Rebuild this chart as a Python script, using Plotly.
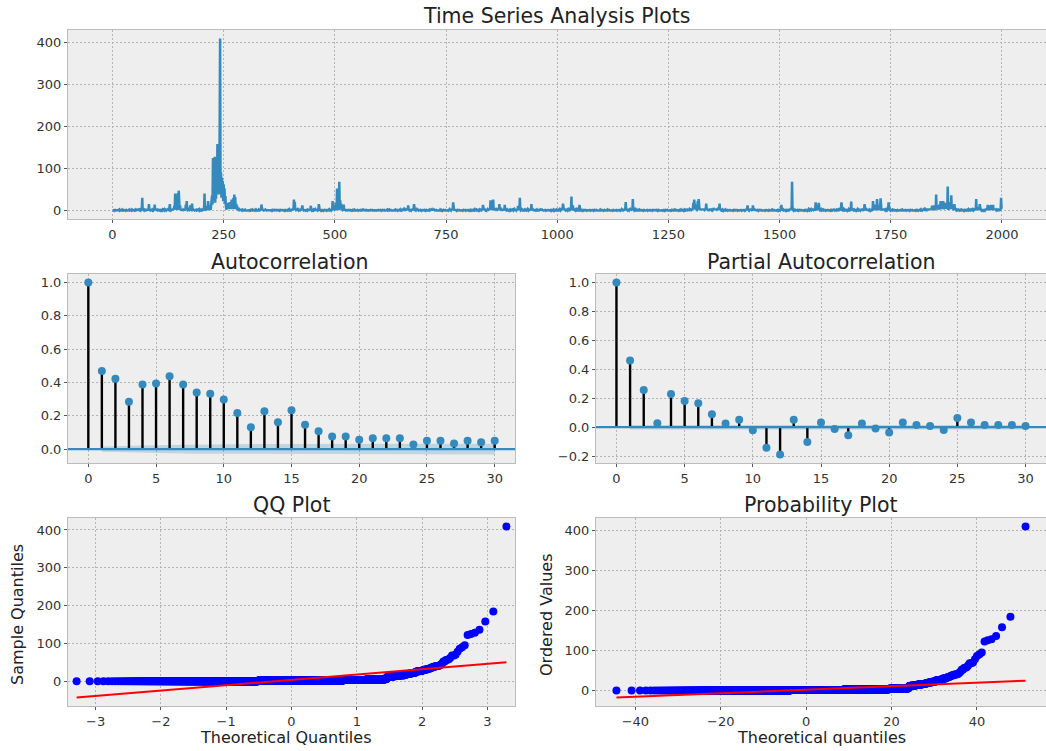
import numpy as np
import plotly.graph_objects as go
from statistics import NormalDist

W, H = 1046, 751

# Observations, one digit per time step (rows of 100); larger values are set below.
baseline_rows = [
    "0010201001 0100120100 1020010102 0101001020 1010210101 0120012111 2102132101 1021101312 1023101012 0102021321",
    "1021110102 0120121031 2012132143 1024031324 3243122434 2132121302 1122314251 2031231203 1120201132 0102103110",
    "1201132402 1032413152 3242524263 3524363524 4253524143 3524132524 3423152423 2413241324 2132312121 1021201120",
    "0101001020 1010201010 0120101002 1013241010 0101200110 1001010201 0203101010 1010020101 0110102010 2011010301",
    "1020141342 3241213102 1201314231 0110201102 1013041201 0120103101 1021341102 0110201010 1020101301 1031231413",
    "2342413241 3413241312 3120201101 0101010020 1010201001 0102010100 1024101010 0101002010 1010101002 0100201010",
    "1010020101 0101001020 1020101010 0100102010 1020101301 1021301312 2031341301 1031241302 1102031101 0101020110",
    "1010201010 0102010130 1402101010 0101010200 1020101010 0101020131 2031341201 0110201010 1001010201 0101020101",
    "1020101301 1021301120 1103120142 1312413120 1031324131 3242413243 2413242313 3142313121 2031341201 1031201312",
    "1201312103 1312413201 3120131201 1013120130 2131302101 0101201010 1020141010 0101020101 1010201301 1021301120",
    "1102131201 3142413120 1312013141 2341312013 1201312010 3112011020 1010102010 0101020101 1020101010 0101010200",
    "1010201010 0102010100 1010201010 0101020101 1020131201 1314241301 1201314231 3120131201 1010201010 0102010100",
    "1010201010 0102010101 1010102010 0101010201 1020101010 0101020101 1010201010 0102010120 1010312010 1021301312",
    "2131424243 3242134243 3142413142 2131424131 1312413120 2131314142 3142413120 1021301120 1010201010 0101020101",
    "1010102010 0101020101 1020131402 1031241312 3130211010 1020101010 0101010201 1010201010 0102010100 1010201301",
    "1021301120 1010201301 1021341402 1031201010 1020101010 0101020101 1020131201 1312413120 2141342413 1021301120",
    "1010201010 0102010130 1021301120 1013120143 2101312010 1020131201 1314131201 1020131201 1031241312 2141302101",
    "1021301312 4142413142 3142413141 2031413120 1312413120 1010201010 0102010100 1010102010 0101020101 1020101010",
    "0101020101 1020101301 1021301312 2131424131 3142424241 4243524342 4354635453 5465646564 4354635453 3142413120",
    "1021301120 1010201301 1021301120 1013120143 2141342413 3112011020 1031241413 4241313142 3142413120 1021301324",
]

# Time steps with larger values, and those values
spike_index = [
    67, 82, 95, 129, 139, 141, 143, 145, 147, 149, 150, 152, 165, 167, 175, 179,
    207, 212, 215, 218,
    222, 223, 224, 225, 226, 227, 228, 229, 230, 231, 232, 233, 234, 235, 236, 237, 238, 239, 240,
    241, 242, 243, 244, 245, 246, 247, 248, 249, 250, 251, 252, 253, 254, 255,
    258, 260, 262, 264, 266, 268, 270, 272, 274, 276, 278, 280,
    335, 408, 410, 427, 446, 464, 495, 497, 502, 505, 507, 510, 512, 514, 520,
    665, 678, 766, 833, 850, 853, 856, 870, 882, 912, 916, 942, 1013, 1032, 1035, 1050,
    1154, 1170, 1306, 1308, 1311, 1316, 1318, 1335, 1365, 1428, 1440,
    1504, 1528, 1581, 1585, 1588, 1639, 1661, 1691, 1710, 1714, 1719, 1723, 1727, 1745,
    1843, 1847, 1852, 1855, 1859, 1862, 1865, 1868, 1871, 1874, 1878, 1881, 1883, 1886, 1889, 1893,
    1942, 1950, 1968, 1972, 1976, 1980, 1998,
]
spike_value = [
    30, 15, 14, 15, 11, 40, 32, 16, 41, 47, 26, 12, 14, 22, 12, 16,
    40, 11, 22, 12,
    20, 10, 36, 14, 125, 24, 122, 34, 128, 18, 95, 28, 86, 42, 158, 58, 136, 38, 56,
    184, 409, 45, 90, 30, 78, 40, 70, 22, 62, 33, 52, 16, 34, 10,
    15, 18, 12, 20, 16, 26, 20, 30, 38, 32, 16, 12,
    14, 26, 20, 12, 11, 15, 22, 12, 18, 52, 26, 68, 24, 16, 14,
    12, 15, 19, 13, 24, 12, 26, 15, 13, 11, 30, 15, 16, 33, 12, 13,
    20, 27, 18, 26, 14, 22, 27, 16, 16, 12, 12,
    13, 68, 19, 12, 18, 19, 21, 15, 22, 14, 27, 12, 29, 19,
    11, 12, 38, 12, 14, 22, 16, 22, 13, 18, 57, 20, 16, 36, 13, 15,
    27, 15, 13, 12, 13, 13, 30,
]

acf_lags = list(range(31))
acf_values = [1.0, 0.469, 0.423, 0.284, 0.388, 0.394, 0.437, 0.388, 0.340, 0.332, 0.298,
              0.217, 0.131, 0.227, 0.161, 0.233, 0.147, 0.107, 0.076, 0.076, 0.056,
              0.066, 0.066, 0.066, 0.028, 0.050, 0.050, 0.034, 0.050, 0.042, 0.050]
pacf_values = [1.0, 0.462, 0.258, 0.028, 0.230, 0.181, 0.165, 0.090, 0.026, 0.051, -0.021,
               -0.142, -0.188, 0.051, -0.102, 0.032, -0.012, -0.056, 0.026, -0.009, -0.037,
               0.032, 0.016, 0.009, -0.019, 0.063, 0.032, 0.016, 0.016, 0.016, 0.009]

ts_xticks = [0, 250, 500, 750, 1000, 1250, 1500, 1750, 2000]
ts_yticks = [0, 100, 200, 300, 400]
lag_ticks = [0, 5, 10, 15, 20, 25, 30]
acf_yticks = [0.0, 0.2, 0.4, 0.6, 0.8, 1.0]
pacf_yticks = [-0.2, 0.0, 0.2, 0.4, 0.6, 0.8, 1.0]
qq_xticks = [-3, -2, -1, 0, 1, 2, 3]
pp_xticks = [-40, -20, 0, 20, 40]

# ---------------------------------------------------------------- data prep
series = np.array([int(ch) for row in baseline_rows for ch in row.replace(" ", "")], dtype=float)
series[np.array(spike_index)] = spike_value
n = series.size
obs = np.arange(n)

nd = NormalDist()
mean = series.mean()
std_pop = series.std()
std_smp = series.std(ddof=1)

ordered = np.sort(series)
# QQ plot: plotting positions i/(n+1), standardized reference line
qq_x = np.array([nd.inv_cdf(i / (n + 1)) for i in range(1, n + 1)])
qq_line_x = np.array([qq_x[0], qq_x[-1]])
qq_line_y = qq_line_x * std_pop + mean

# Probability plot: Filliben positions scaled by the sample mean/std, least-squares line
m = np.empty(n)
m[-1] = 0.5 ** (1.0 / n)
m[0] = 1 - m[-1]
m[1:-1] = (np.arange(2, n) - 0.3175) / (n + 0.365)
pp_x = mean + std_smp * np.array([nd.inv_cdf(p) for p in m])
pp_slope, pp_icpt = np.polyfit(pp_x, ordered, 1)
pp_line_x = np.array([pp_x[0], pp_x[-1]])
pp_line_y = pp_slope * pp_line_x + pp_icpt

# 50% confidence bands around zero
z50 = nd.inv_cdf(0.75)
acf_arr = np.array(acf_values)
band_lags = np.array(acf_lags[1:])
acf_se = np.sqrt((1 + 2 * np.concatenate([[0.0], np.cumsum(acf_arr[1:-1] ** 2)])) / n)
acf_hi = z50 * acf_se
pacf_hi = np.full(band_lags.size, z50 / np.sqrt(n))


def pad(lo, hi, frac):
    d = (hi - lo) * frac
    return [lo - d, hi + d]


def stems(xs, ys):
    sx, sy = [], []
    for a, b in zip(xs, ys):
        sx += [a, a, None]
        sy += [0, b, None]
    return sx, sy


# ---------------------------------------------------------------- figure
BLUE = "#348ABD"
FONT = "DejaVu Sans"
fig = go.Figure()

fig.add_trace(go.Scatter(x=obs, y=series, mode="lines", line=dict(color=BLUE, width=2.5),
                         xaxis="x", yaxis="y", hoverinfo="skip"))

for ax, vals, hi in (("2", acf_values, acf_hi), ("3", pacf_values, pacf_hi)):
    fig.add_trace(go.Scatter(
        x=np.concatenate([band_lags, band_lags[::-1]]),
        y=np.concatenate([hi, -hi[::-1]]),
        fill="toself", fillcolor="rgba(52,138,189,0.25)", line=dict(width=0),
        mode="lines", xaxis="x" + ax, yaxis="y" + ax, hoverinfo="skip"))
    sx, sy = stems(acf_lags, vals)
    fig.add_trace(go.Scatter(x=sx, y=sy, mode="lines", line=dict(color="black", width=2.4),
                             xaxis="x" + ax, yaxis="y" + ax, hoverinfo="skip"))
    fig.add_trace(go.Scatter(x=[-5, 40], y=[0, 0], mode="lines", line=dict(color=BLUE, width=2.2),
                             xaxis="x" + ax, yaxis="y" + ax, hoverinfo="skip"))
    fig.add_trace(go.Scatter(x=acf_lags, y=vals, mode="markers",
                             marker=dict(color=BLUE, size=8, line=dict(width=0)),
                             xaxis="x" + ax, yaxis="y" + ax))

for ax, xs, lx, ly in (("4", qq_x, qq_line_x, qq_line_y), ("5", pp_x, pp_line_x, pp_line_y)):
    fig.add_trace(go.Scatter(x=xs, y=ordered, mode="markers",
                             marker=dict(color="#0000FF", size=8, line=dict(width=0)),
                             xaxis="x" + ax, yaxis="y" + ax, hoverinfo="skip"))
    fig.add_trace(go.Scatter(x=lx, y=ly, mode="lines", line=dict(color="#FF0000", width=2),
                             xaxis="x" + ax, yaxis="y" + ax, hoverinfo="skip"))

# axes boxes in pixels: left, right, top, bottom
boxes = {
    "": (68, 1046, 30, 219),
    "2": (68, 515, 274, 463),
    "3": (596, 1046, 274, 463),
    "4": (68, 515, 518, 706),
    "5": (596, 1046, 518, 706),
}
qq_y_rng = pad(min(qq_line_y.min(), ordered.min()), max(qq_line_y.max(), ordered.max()), 0.05)
pp_y_rng = pad(min(pp_line_y.min(), ordered.min()), max(pp_line_y.max(), ordered.max()), 0.05)
ranges = {
    "": (pad(0, n - 1, 0.05), pad(series.min(), series.max(), 0.05), ts_xticks, ts_yticks, None),
    "2": ([-1.5, 31.5], pad(-acf_hi.max(), 1.0, 0.05), lag_ticks, acf_yticks, ".1f"),
    "3": ([-1.5, 31.5], pad(min(min(pacf_values), -pacf_hi.max()), 1.0, 0.05), lag_ticks, pacf_yticks, ".1f"),
    "4": (pad(qq_x[0], qq_x[-1], 0.02), qq_y_rng, qq_xticks, ts_yticks, None),
    "5": (pad(pp_x[0], pp_x[-1], 0.05), pp_y_rng, pp_xticks, ts_yticks, None),
}

common = dict(showgrid=True, gridcolor="#b4b4b4", gridwidth=0.7, griddash="2px,2px",
              zeroline=False, showline=True, linecolor="#bcbcbc", linewidth=1,
              ticks="outside", ticklen=3, tickwidth=1, tickcolor="#555555",
              tickfont=dict(family=FONT, size=13, color="#333333"))
layout_axes = {}
for key, (l, r, t, b) in boxes.items():
    xr, yr, xt, yt, yfmt = ranges[key]
    cropped = r >= W
    layout_axes["xaxis" + key] = dict(common, domain=[l / W, min(r / W, 1.0)], range=xr,
                                      tickvals=xt, anchor="y" + key, mirror=True)
    layout_axes["yaxis" + key] = dict(common, domain=[1 - b / H, 1 - t / H], range=yr,
                                      tickvals=yt, anchor="x" + key, mirror=not cropped,
                                      tickformat=yfmt)

fig.update_layout(**layout_axes)

title_font = dict(family=FONT, size=20.5, color="#222222")
label_font = dict(family=FONT, size=16, color="#222222")
notes = [
    ("Time Series Analysis Plots", 557, 16, 0, title_font),
    ("Autocorrelation", 290, 262, 0, title_font),
    ("Partial Autocorrelation", 821, 262, 0, title_font),
    ("QQ Plot", 291, 505, 0, title_font),
    ("Probability Plot", 821, 505, 0, title_font),
    ("Theoretical Quantiles", 286, 737, 0, label_font),
    ("Theoretical quantiles", 821, 737, 0, label_font),
    ("Sample Quantiles", 17, 615, -90, label_font),
    ("Ordered Values", 546, 615, -90, label_font),
]
fig.update_layout(annotations=[
    dict(text=t, x=x / W, y=1 - y / H, xref="paper", yref="paper", showarrow=False,
         xanchor="center", yanchor="middle", textangle=a, font=f)
    for t, x, y, a, f in notes
])

fig.update_layout(width=W, height=H, margin=dict(l=0, r=0, t=0, b=0),
                  paper_bgcolor="white", plot_bgcolor="#eeeeee", showlegend=False)

fig.write_html("out.html")
